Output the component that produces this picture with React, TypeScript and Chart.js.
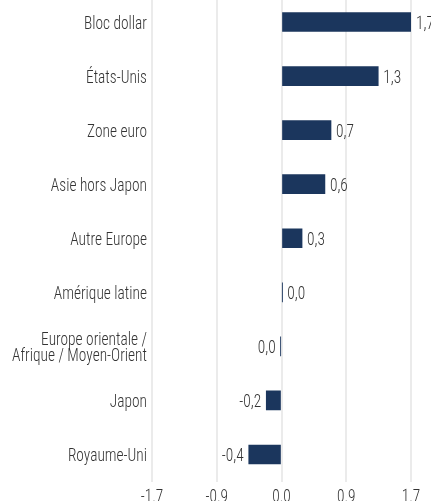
import React, { useEffect, useRef } from "react";
import { Chart, registerables } from "chart.js";

Chart.register(...registerables);

// ---- data ----
const categories: string[][] = [
  ["Bloc dollar"],
  ["États-Unis"],
  ["Zone euro"],
  ["Asie hors Japon"],
  ["Autre Europe"],
  ["Amérique latine"],
  ["Europe orientale /", "Afrique / Moyen-Orient"],
  ["Japon"],
  ["Royaume-Uni"],
];
const values = [1.7, 1.27, 0.65, 0.57, 0.27, 0.01, -0.01, -0.2, -0.43];
const valueLabels = ["1,7", "1,3", "0,7", "0,6", "0,3", "0,0", "0,0", "-0,2", "-0,4"];
const xTickValues = [-1.7, -0.85, 0, 0.85, 1.7];
const xTickLabels = ["-1.7", "-0.9", "0.0", "0.9", "1.7"];

// ---- style ----
const BAR_COLOR = "#1b365d";
const TEXT_COLOR = "#333333";
const GRID_COLOR = "#ebebeb";
const FONT = '300 19px "Roboto Condensed", "DejaVu Sans Condensed", sans-serif';
const SCALE_X = 0.81;
const CAP_HALF = 7;
const SHIFT_TOP = 5;

function drawText(ctx: CanvasRenderingContext2D, text: string, x: number, y: number, align: CanvasTextAlign) {
  ctx.save();
  ctx.translate(x, y);
  ctx.scale(SCALE_X, 1);
  ctx.textAlign = align;
  ctx.textBaseline = "alphabetic";
  ctx.fillText(text, 0, 0);
  ctx.restore();
}

const textPlugin = {
  id: "condensedText",
  afterDatasetsDraw(chart: any) {
    const ctx: CanvasRenderingContext2D = chart.ctx;
    const area = chart.chartArea;
    const xScale = chart.scales.x;
    const yScale = chart.scales.y;
    ctx.save();
    ctx.font = FONT;
    ctx.fillStyle = TEXT_COLOR;
    // category labels
    categories.forEach((lines, i) => {
      const yc = yScale.getPixelForTick(i);
      const lh = 16;
      const start = yc - ((lines.length - 1) * lh) / 2;
      lines.forEach((ln, j) => {
        drawText(ctx, ln, area.left - 5, start + j * lh + CAP_HALF, "right");
      });
    });
    // value labels
    const meta = chart.getDatasetMeta(0);
    meta.data.forEach((el: any, i: number) => {
      const v = values[i];
      if (v >= 0) drawText(ctx, valueLabels[i], el.x + 5, el.y + CAP_HALF, "left");
      else drawText(ctx, valueLabels[i], el.x - 5, el.y + CAP_HALF, "right");
    });
    // x tick labels
    xTickValues.forEach((v, i) => {
      const x = xScale.getPixelForValue(v);
      drawText(ctx, xTickLabels[i], x, 502 + SHIFT_TOP, "center");
    });
    ctx.restore();
  },
};

export default function App() {
  const ref = useRef<HTMLCanvasElement>(null);
  useEffect(() => {
    const canvas = ref.current!;
    const chart = new Chart(canvas, {
      type: "bar",
      data: {
        labels: categories.map((c) => c.join(" ")),
        datasets: [
          {
            data: values,
            backgroundColor: BAR_COLOR,
            borderWidth: 0,
            barThickness: 19,
          },
        ],
      },
      options: {
        indexAxis: "y",
        responsive: false,
        animation: false,
        events: [],
        layout: { padding: { left: 152, right: 20, top: 0, bottom: 19.5 } },
        plugins: { legend: { display: false }, tooltip: { enabled: false } },
        scales: {
          x: {
            min: -1.7,
            max: 1.7,
            afterBuildTicks: (s: any) => {
              s.ticks = xTickValues.map((v) => ({ value: v }));
            },
            ticks: { display: false },
            grid: { color: GRID_COLOR, lineWidth: 2, drawTicks: false },
            border: { display: false },
          },
          y: {
            ticks: { display: false },
            grid: { display: false, drawTicks: false },
            border: { display: false },
          },
        },
      },
      plugins: [textPlugin],
    });
    return () => chart.destroy();
  }, []);
  return (
    <div style={{ position: "fixed", left: 0, top: 0, width: 431, height: 501, overflow: "hidden", background: "#fff" }}>
      <canvas
        ref={ref}
        width={431}
        height={501 + SHIFT_TOP}
        style={{ position: "absolute", left: 0, top: -SHIFT_TOP, display: "block" }}
      />
    </div>
  );
}
